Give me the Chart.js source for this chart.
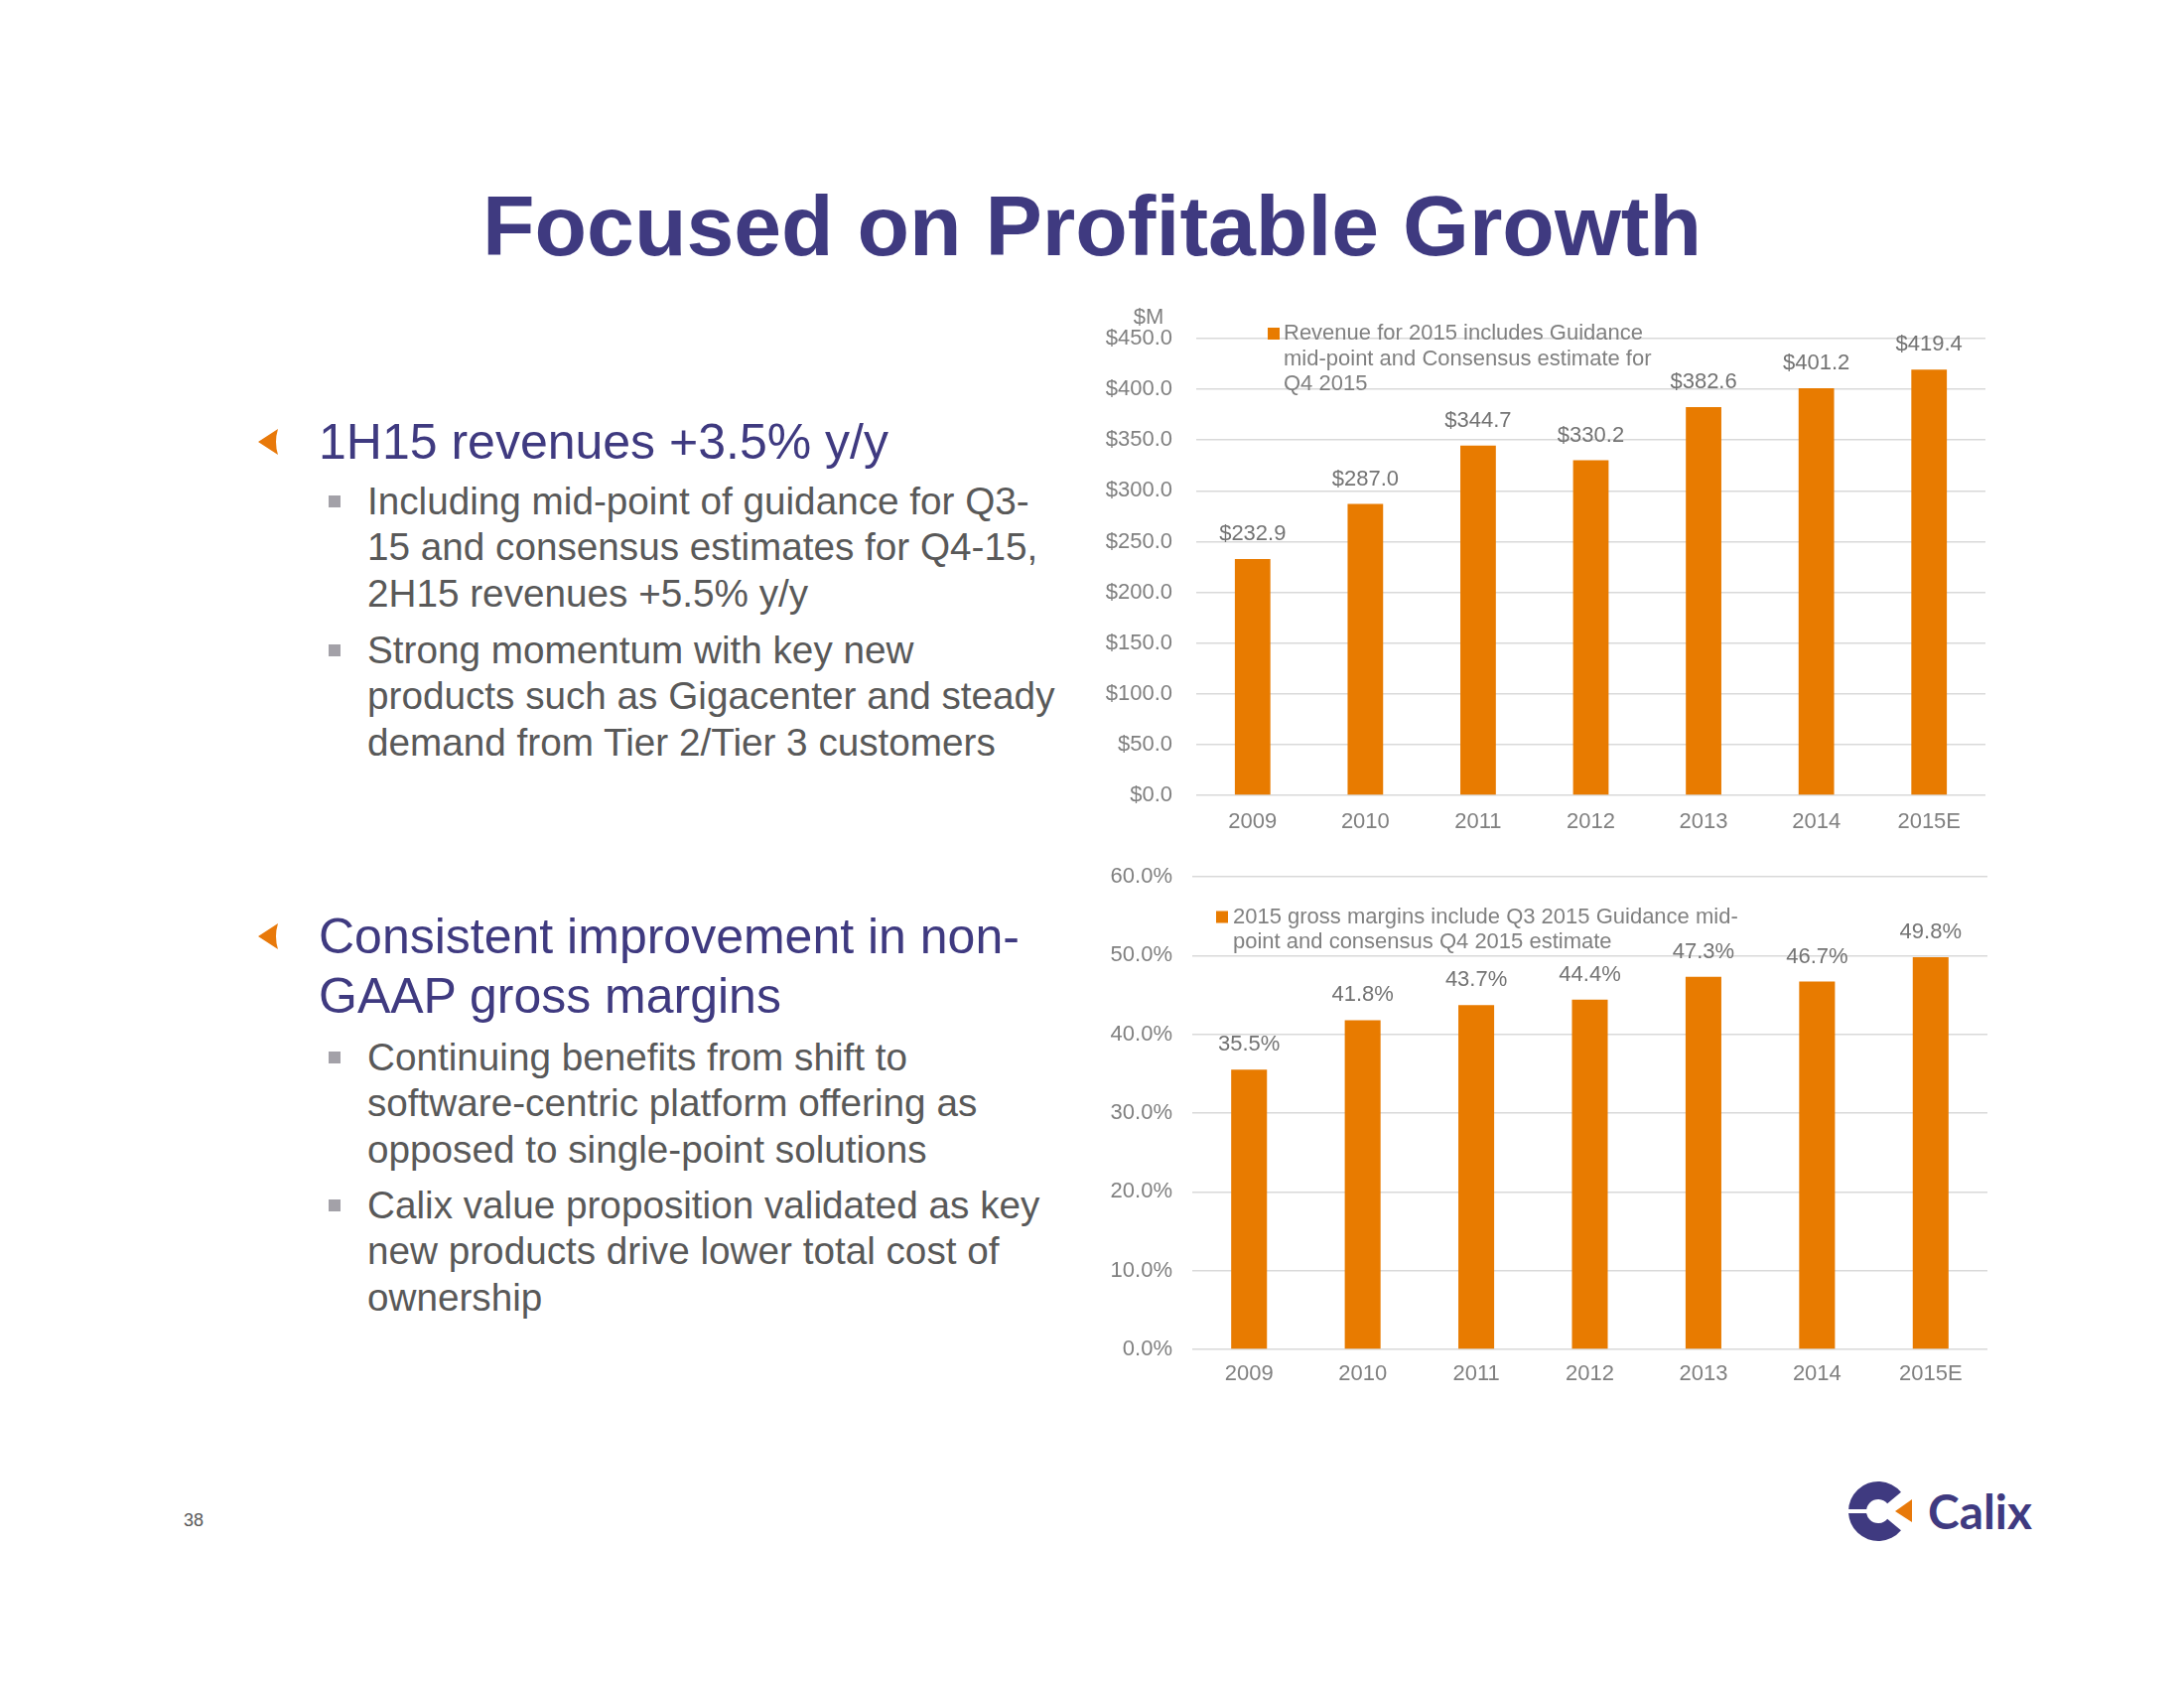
<!DOCTYPE html>
<html>
<head>
<meta charset="utf-8">
<script src="https://cdn.jsdelivr.net/npm/chart.js@4.4.1/dist/chart.umd.min.js"></script>
<style>
html,body{margin:0;padding:0;background:#fff;}
body{width:2200px;height:1700px;position:relative;overflow:hidden;font-family:"Liberation Sans",Arial,Helvetica,sans-serif;}
.abs{position:absolute;white-space:nowrap;}
#title{left:0;width:2200px;text-align:center;top:184px;font-size:86px;line-height:87px;font-weight:bold;color:#3f3a80;}
.h{position:absolute;white-space:nowrap;font-size:50px;line-height:60px;color:#3f3a80;left:321px;}
.s{position:absolute;white-space:nowrap;font-size:38.7px;line-height:46.3px;color:#595959;left:370px;}
.sq{position:absolute;width:12px;height:12px;background:#a3a1a8;left:331px;}
.arrow{position:absolute;left:258px;width:26px;height:32px;}
canvas{position:absolute;}
#pnum{position:absolute;left:185px;top:1520px;font-size:18px;line-height:22px;color:#595959;}
#logo{position:absolute;left:1860px;top:1485px;}
</style>
</head>
<body>
<div id="title" class="abs">Focused on Profitable Growth</div>

<svg class="arrow" style="top:429px" viewBox="0 0 26 32"><path d="M2,16 L22,3 Q18,16 22,29 Z" fill="#e8790a"/></svg>
<div class="h" style="top:415px">1H15 revenues +3.5% y/y</div>
<div class="sq" style="top:499px"></div>
<div class="s" style="top:482px">Including mid-point of guidance for Q3-<br>15 and consensus estimates for Q4-15,<br>2H15 revenues +5.5% y/y</div>
<div class="sq" style="top:649px"></div>
<div class="s" style="top:632px">Strong momentum with key new<br>products such as Gigacenter and steady<br>demand from Tier 2/Tier 3 customers</div>

<svg class="arrow" style="top:927px" viewBox="0 0 26 32"><path d="M2,16 L22,3 Q18,16 22,29 Z" fill="#e8790a"/></svg>
<div class="h" style="top:913px">Consistent improvement in non-<br>GAAP gross margins</div>
<div class="sq" style="top:1059px"></div>
<div class="s" style="top:1042px">Continuing benefits from shift to<br>software-centric platform offering as<br>opposed to single-point solutions</div>
<div class="sq" style="top:1208px"></div>
<div class="s" style="top:1191px">Calix value proposition validated as key<br>new products drive lower total cost of<br>ownership</div>

<div id="pnum">38</div>

<svg id="logo" width="200" height="75" viewBox="0 0 200 75">
  <path d="M54.98,17.72 A30,30 0 1 0 54.98,56.28 L41.19,44.71 A12,12 0 1 1 41.19,29.29 Z" fill="#3f3a80"/>
  <rect x="0" y="35" width="21" height="4" fill="#fff"/>
  <path d="M49,37 L66,25 L66,48 Z" fill="#e8790a"/>
  <text x="82" y="55" font-family="Lato, 'Liberation Sans', sans-serif" font-weight="bold" font-size="48" fill="#3f3a80" textLength="105" lengthAdjust="spacingAndGlyphs">Calix</text>
</svg>

<canvas id="revChart" width="920" height="560" style="left:1100px;top:290px;width:920px;height:560px;"></canvas>
<canvas id="gmChart" width="920" height="590" style="left:1100px;top:830px;width:920px;height:590px;"></canvas>

<script>
// ---- data ----
const categories = ['2009', '2010', '2011', '2012', '2013', '2014', '2015E'];
const revenue = [232.9, 287.0, 344.7, 330.2, 382.6, 401.2, 419.4];
const grossMargin = [35.5, 41.8, 43.7, 44.4, 47.3, 46.7, 49.8];
const revenueAxis = { min: 0, max: 450, step: 50 };
const marginAxis = { min: 0, max: 60, step: 10 };
const revenueUnit = '$M';
const revenueNote = ['Revenue for 2015 includes Guidance', 'mid-point and Consensus estimate for', 'Q4 2015'];
const marginNote = ['2015 gross margins include Q3 2015 Guidance mid-', 'point and consensus Q4 2015 estimate'];

const fmtMoney = v => '$' + Number(v).toFixed(1);
const fmtPct = v => Number(v).toFixed(1) + '%';

const FONT = '"Liberation Sans", Arial, Helvetica, sans-serif';
const BAR = '#e87b00';
const GRID = '#d9d9d9';
const TICK = '#808080';
const LABEL = '#737373';

function valueLabels(fmt) {
  return {
    id: 'valueLabels',
    afterDatasetsDraw(chart) {
      const ctx = chart.ctx;
      const meta = chart.getDatasetMeta(0);
      const data = chart.data.datasets[0].data;
      ctx.save();
      ctx.font = '22px ' + FONT;
      ctx.fillStyle = LABEL;
      ctx.textAlign = 'center';
      ctx.textBaseline = 'middle';
      meta.data.forEach((bar, i) => ctx.fillText(fmt(data[i]), bar.x, bar.y - 25));
      ctx.restore();
    }
  };
}

function noteLegend(lines, boxDx, textDx, dy, extra) {
  return {
    id: 'noteLegend',
    afterDraw(chart) {
      const { ctx, chartArea } = chart;
      ctx.save();
      const x0 = chartArea.left, y0 = chartArea.top + dy;
      ctx.fillStyle = BAR;
      ctx.fillRect(x0 + boxDx, y0 - 6, 12, 12);
      ctx.font = '22px ' + FONT;
      ctx.fillStyle = TICK;
      ctx.textAlign = 'left';
      ctx.textBaseline = 'middle';
      lines.forEach((t, i) => ctx.fillText(t, x0 + textDx, y0 + i * 25.5));
      if (extra) {
        ctx.textAlign = 'center';
        ctx.fillText(extra, chartArea.left - 48, chartArea.top - 21);
      }
      ctx.restore();
    }
  };
}

function makeChart(id, values, axis, tickFmt, labelFmt, yWidth, yPad, xHeight, xPad, pad, plugins) {
  return new Chart(document.getElementById(id), {
    type: 'bar',
    data: {
      labels: categories,
      datasets: [{ data: values, backgroundColor: BAR, borderWidth: 0, categoryPercentage: 1, barPercentage: 0.315 }]
    },
    options: {
      responsive: false,
      animation: false,
      devicePixelRatio: 1,
      layout: { padding: pad },
      plugins: { legend: { display: false }, tooltip: { enabled: false } },
      scales: {
        x: {
          grid: { display: false, drawTicks: false },
          border: { display: false },
          ticks: { color: TICK, font: { family: FONT, size: 22 }, padding: xPad, maxRotation: 0 },
          afterFit(s) { s.height = xHeight; }
        },
        y: {
          min: axis.min, max: axis.max,
          grid: { color: GRID, lineWidth: 1.5, drawTicks: false },
          border: { display: false },
          ticks: { stepSize: axis.step, color: TICK, font: { family: FONT, size: 22 }, padding: yPad, callback: tickFmt },
          afterFit(s) { s.width = yWidth; }
        }
      }
    },
    plugins: plugins.concat([valueLabels(labelFmt)])
  });
}

makeChart('revChart', revenue, revenueAxis, fmtMoney, fmtMoney, 105, 24, 49, 14,
  { top: 51, right: 20, bottom: 0, left: 0 },
  [noteLegend(revenueNote, 72, 88, -5, revenueUnit)]);

makeChart('gmChart', grossMargin, marginAxis, fmtPct, fmtPct, 101, 20, 61, 12,
  { top: 53, right: 18, bottom: 0, left: 0 },
  [noteLegend(marginNote, 24, 41, 40.5, null)]);
</script>
</body>
</html>
